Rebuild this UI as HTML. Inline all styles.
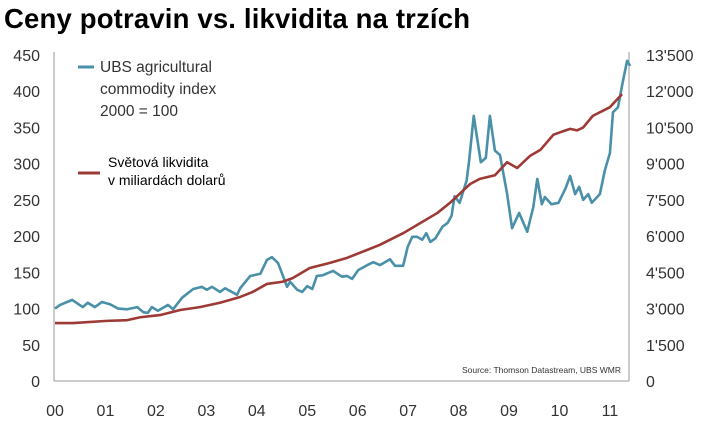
<!DOCTYPE html>
<html><head><meta charset="utf-8"><style>
body{margin:0;background:#fff;width:706px;height:427px;overflow:hidden;font-family:"Liberation Sans",sans-serif}
svg{display:block}
</style></head><body>
<svg width="706" height="427">
<text x="4" y="28" font-size="27.5" font-weight="bold" fill="#000" textLength="466">Ceny potravin vs. likvidita na trzích</text>
<g id="axes"></g>
<g id="series"></g>
<line x1="78" y1="67" x2="94" y2="67" stroke="#4a90a8" stroke-width="3"/>
<text font-size="15.5" fill="#333"><tspan x="100" y="72">UBS agricultural</tspan><tspan x="100" y="94">commodity index</tspan><tspan x="100" y="116">2000 = 100</tspan></text>
<line x1="78" y1="173" x2="100" y2="173" stroke="#9e3a36" stroke-width="3"/>
<text font-size="14" fill="#000"><tspan x="108" y="167">Světová likvidita</tspan><tspan x="108" y="185">v miliardách dolarů</tspan></text>
<text x="621" y="373" font-size="8.5" fill="#333" text-anchor="end">Source: Thomson Datastream, UBS WMR</text>
</svg>
<script>
const leftTicks=[0,50,100,150,200,250,300,350,400,450];
const rightTicks=["0","1'500","3'000","4'500","6'000","7'500","9'000","10'500","12'000","13'500"];
const yearLabels=["00","01","02","03","04","05","06","07","08","09","10","11"];
const blueT=[0,0.1,0.34,0.55,0.65,0.79,0.93,1.09,1.25,1.43,1.63,1.75,1.84,1.92,2.04,2.24,2.34,2.52,2.74,2.91,3.01,3.11,3.27,3.37,3.61,3.67,3.87,4.07,4.2,4.3,4.42,4.6,4.66,4.8,4.9,5,5.1,5.19,5.31,5.51,5.69,5.79,5.89,6.01,6.19,6.31,6.44,6.54,6.64,6.74,6.9,6.99,7.08,7.18,7.28,7.36,7.44,7.54,7.68,7.78,7.86,7.92,8.02,8.16,8.21,8.3,8.44,8.54,8.62,8.72,8.82,8.96,9.06,9.2,9.36,9.48,9.56,9.65,9.71,9.84,9.98,10.12,10.21,10.31,10.39,10.47,10.57,10.64,10.8,10.9,11,11.06,11.16,11.26,11.34,11.4];
const blueV=[100,105,112,102,108,102,109,106,100,99,102,95,94,102,97,105,99,115,127,130,126,130,123,128,119,128,145,148,167,171,163,130,137,126,123,131,127,145,146,152,144,145,141,153,160,164,160,164,168,159,159,185,199,199,195,204,192,197,213,218,228,255,246,277,305,366,302,308,366,318,312,259,211,232,206,240,279,244,254,244,246,266,283,258,268,250,258,246,258,291,315,371,378,415,442,435];
const redT=[0,0.36,1.03,1.43,1.69,2.08,2.48,2.87,3.27,3.67,3.92,4.2,4.51,4.71,5.05,5.45,5.79,6.19,6.44,6.9,7.58,7.83,8.23,8.42,8.72,8.96,9.16,9.42,9.62,9.88,10.08,10.21,10.35,10.47,10.66,11,11.24];
const redV=[2400,2400,2490,2520,2640,2730,2940,3060,3240,3480,3690,4020,4110,4260,4680,4890,5100,5430,5640,6120,6960,7380,8160,8370,8520,9060,8820,9330,9570,10200,10350,10440,10380,10500,10980,11340,11880];
const NS="http://www.w3.org/2000/svg";
const X0=55,PXY=50.45,Y0=381,PXV=0.7244;
const xs=t=>X0+t*PXY, yl=v=>Y0-v*PXV, yr=v=>Y0-v/30*PXV;
function mk(tag,attrs,parent){const e=document.createElementNS(NS,tag);for(const k in attrs)e.setAttribute(k,attrs[k]);parent.appendChild(e);return e;}
const ax=document.getElementById('axes'),sr=document.getElementById('series');
let e;
e=mk('line',{x1:54,y1:52,x2:54,y2:381,stroke:'#999','stroke-width':1},ax);


e=mk('line',{x1:629,y1:52,x2:629,y2:381,stroke:'#999','stroke-width':1},ax);


e=mk('line',{x1:54,y1:381,x2:629,y2:381,stroke:'#999','stroke-width':1},ax);


leftTicks.forEach((v,i)=>{
 const t=mk('text',{x:40,y:yl(v)+6,'font-size':16,fill:'#333','text-anchor':'end'},ax);t.textContent=v;
 
 
 const r=mk('text',{x:646,y:yl(v)+6,'font-size':16,fill:'#333'},ax);r.textContent=rightTicks[i];
 
 
});
yearLabels.forEach((l,i)=>{
 const t=mk('text',{x:xs(i),y:416,'font-size':16,fill:'#333','text-anchor':'middle'},ax);t.textContent=l;
 
 
});
const bp=mk('polyline',{points:blueT.map((t,i)=>xs(t)+','+yl(blueV[i])).join(' '),fill:'none',stroke:'#4a90a8','stroke-width':2.6,'stroke-linejoin':'round'},sr);


const rp=mk('polyline',{points:redT.map((t,i)=>xs(t)+','+yr(redV[i])).join(' '),fill:'none',stroke:'#9e3a36','stroke-width':2.6,'stroke-linejoin':'round'},sr);


</script>
</body></html>
